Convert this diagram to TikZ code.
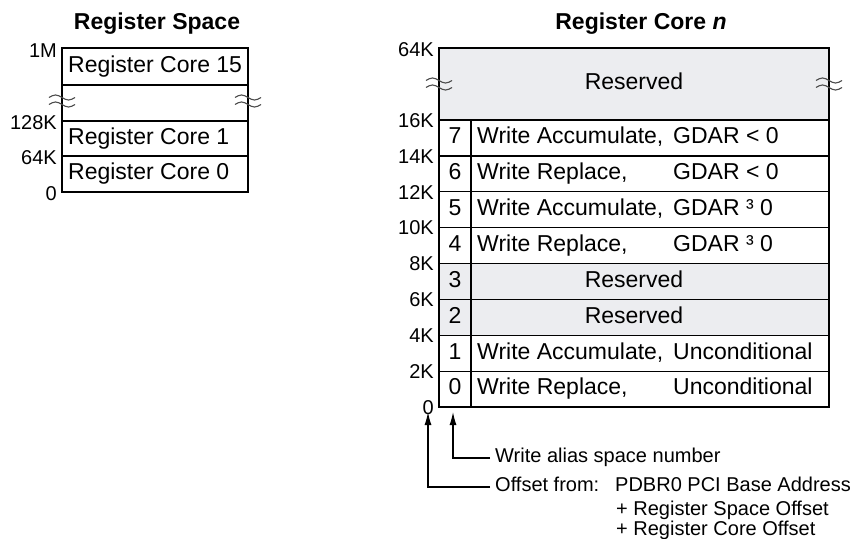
\documentclass[tikz,border=0pt]{standalone}
\usepackage{fontspec}
\setmainfont{Liberation Sans}
\usetikzlibrary{arrows.meta}
\definecolor{rsvgray}{RGB}{236,237,240}

\begin{document}
\begin{tikzpicture}[x=1pt, y=-1pt,
  rcbox/.style = {line width=2.2pt},
  rcline/.style = {line width=1.3pt},
  rcbrk/.style = {black!70, line width=1.1pt},
  rctext/.style = {inner sep=0pt, font=\fontsize{23}{27}\selectfont, text height=17pt, text depth=5.6pt},
  rctitle/.style = {inner sep=0pt, font=\fontsize{23}{27}\selectfont\bfseries},
  rclbl/.style = {inner sep=0pt, font=\fontsize{20}{24}\selectfont, text height=14.5pt, text depth=0pt},
  rcptr/.style = {line width=1.2pt, -{Latex[length=13pt,width=7pt]}}
]
  \useasboundingbox (0,0) rectangle (853,538);
  % register space
  \foreach \y in {85,121,156}
    \draw[rcline] (62,\y) -- (248,\y);
  \draw[rcbox] (62,48) rectangle (248,192);
  % register core n
  \fill[rsvgray] (439,48) rectangle (829,120);
  \fill[rsvgray] (439,263.6) rectangle (829,335.4);
  \foreach \k in {1,...,8}
    \draw[rcline] (439,407.2-35.9*\k) -- (829,407.2-35.9*\k);
  \draw[rcline] (471,120) -- (471,407.2);
  \draw[rcbox] (439,48) rectangle (829,407.2);
  % break marks
  \foreach \cx/\cy in {62/101, 248/101, 439/84, 829/84} {
    \foreach \dy in {-3.5,3.5}
      \draw[rcbrk] (\cx-13,\cy+\dy) sin (\cx-6.5,\cy+\dy-2.5) cos (\cx,\cy+\dy)
        sin (\cx+6.5,\cy+\dy+2.5) cos (\cx+13,\cy+\dy);
  }
  % titles
  \node[rctitle] (spacettl) at (157,24) {Register Space};
  \node[rctitle] (corettl) at (641,24) {Register Core \textit{n}};
  % register space contents
  \foreach \nm/\txt/\y in {c15/Register Core 15/66.5, c1/Register Core 1/138.5, c0/Register Core 0/174}
    \node[rctext, anchor=west] (\nm) at (68,\y) {\txt};
  \foreach \nm/\txt/\y in {l1m/1M/50, l128/128K/122, l64/64K/157, l0/0/193}
    \node[rclbl, anchor=east] (\nm) at (57,\y) {\txt};
  % register core offsets
  \foreach \k/\txt in {0/0, 1/2K, 2/4K, 3/6K, 4/8K, 5/10K, 6/12K, 7/14K, 8/16K}
    \node[rclbl, anchor=east] (lbl\k) at (434,407.2-35.9*\k) {\txt};
  \node[rclbl, anchor=east] (lbl64) at (434,49) {64K};
  % alias rows
  \foreach \k in {0,...,7}
    \node[rctext] (num\k) at (455,389.25-35.9*\k) {\k};
  \foreach \k/\op/\cond in {7/{Write Accumulate,}/{GDAR < 0}, 6/{Write Replace,}/{GDAR < 0},
      5/{Write Accumulate,}/{GDAR ³ 0}, 4/{Write Replace,}/{GDAR ³ 0},
      1/{Write Accumulate,}/{Unconditional}, 0/{Write Replace,}/{Unconditional}} {
    \node[rctext, anchor=west] (op\k) at (477,389.25-35.9*\k) {\op};
    \node[rctext, anchor=west] (cond\k) at (673,389.25-35.9*\k) {\cond};
  }
  \node[rctext] (rsvtop) at (634,84) {Reserved};
  \foreach \k in {3,2}
    \node[rctext] (rsv\k) at (634,389.25-35.9*\k) {Reserved};
  % pointers
  \coordinate (tipoff) at (428,412);
  \coordinate (tipalias) at (453,412);
  \node[rclbl, anchor=west] (alias) at (495,455) {Write alias space number};
  \node[rclbl, anchor=west] (offset) at (495,484) {Offset from:};
  \node[rclbl, anchor=west] (base) at (615,484) {PDBR0 PCI Base Address};
  \node[rclbl, anchor=west] (spoff) at (616,508) {+ Register Space Offset};
  \node[rclbl, anchor=west] (coreoff) at (616,528) {+ Register Core Offset};
  \draw[rcptr] ([xshift=-5pt, yshift=-3pt]alias.west) -| (tipalias);
  \draw[rcptr] ([xshift=-5pt, yshift=-3pt]offset.west) -| (tipoff);
\end{tikzpicture}
\end{document}
